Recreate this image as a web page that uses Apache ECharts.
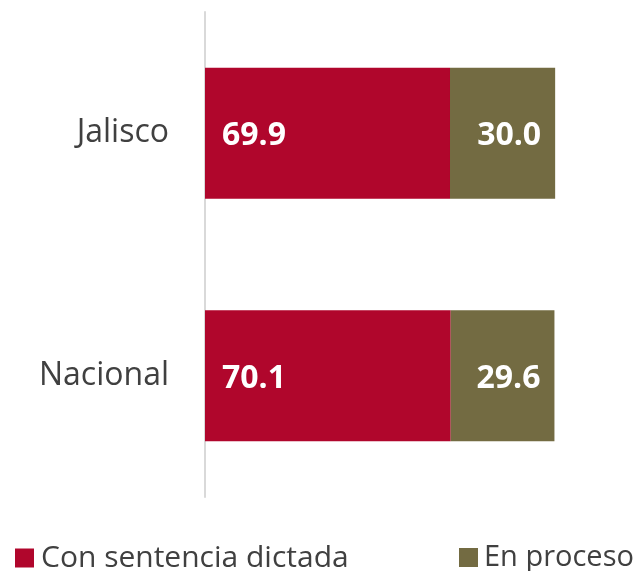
<!DOCTYPE html>
<html>
<head>
<meta charset="utf-8">
<script src="https://cdn.jsdelivr.net/npm/echarts@6/dist/echarts.min.js"></script>
<style>
  html, body { margin: 0; padding: 0; background: #fff; }
  #main { width: 641px; height: 571px; }
</style>
</head>
<body>
<div id="main"></div>
<script>
  // categories, top to bottom
  var categories = ['Jalisco', 'Nacional'];
  var conSentencia = [69.9, 70.1];
  var enProceso = [30.0, 29.6];

  var fontFam = '"Open Sans", "Noto Sans", sans-serif';
  var chart = echarts.init(document.getElementById('main'));

  var option = {
    animation: false,
    grid: { left: 205, top: 12, width: 350.5, height: 485 },
    xAxis: {
      type: 'value', min: 0, max: 100,
      show: false
    },
    yAxis: {
      type: 'category',
      data: categories,
      inverse: true,
      axisLine: { show: true, lineStyle: { color: '#d9d9d9', width: 2 } },
      axisTick: { show: false },
      axisLabel: { color: '#404040', fontSize: 32, fontFamily: fontFam, margin: 36, padding: [7, 0, 0, 0] }
    },
    legend: [{
      data: ['Con sentencia dictada'],
      left: 10, top: 538,
      itemWidth: 19, itemHeight: 19, itemGap: 8,
      icon: 'rect',
      textStyle: { color: '#404040', fontSize: 30, fontFamily: fontFam, padding: [0, 0, 0, 2] }
    }, {
      data: ['En proceso'],
      left: 454, top: 538,
      itemWidth: 19, itemHeight: 19, itemGap: 8,
      icon: 'rect',
      textStyle: { color: '#404040', fontSize: 29, fontFamily: fontFam, padding: [0, 0, 0, 1] }
    }],
    series: [{
      name: 'Con sentencia dictada',
      type: 'bar', stack: 'total',
      barWidth: 131,
      data: conSentencia,
      itemStyle: { color: '#B0062C' },
      label: {
        show: true, position: 'insideLeft', distance: 17, offset: [0, 3],
        color: '#fff', fontWeight: 'bold', fontSize: 32, fontFamily: fontFam,
        formatter: function (p) { return p.value.toFixed(1); }
      }
    }, {
      name: 'En proceso',
      type: 'bar', stack: 'total',
      barWidth: 131,
      data: enProceso,
      itemStyle: { color: '#736B42' },
      label: {
        show: true, position: 'insideRight', distance: 14, offset: [0, 3],
        color: '#fff', fontWeight: 'bold', fontSize: 32, fontFamily: fontFam,
        formatter: function (p) { return p.value.toFixed(1); }
      }
    }]
  };
  chart.setOption(option);
</script>
</body>
</html>
